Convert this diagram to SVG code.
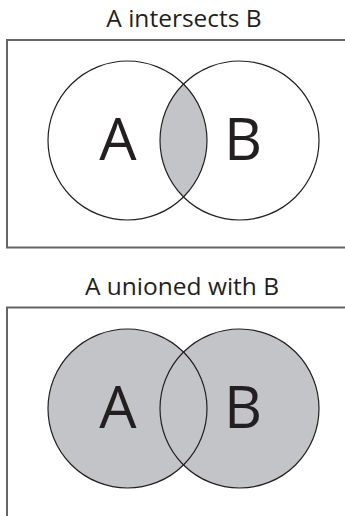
<svg xmlns="http://www.w3.org/2000/svg" width="345" height="516" viewBox="0 0 345 516">
<style>
.title{font-family:"Open Sans","Liberation Sans",sans-serif;font-size:24.5px;fill:#231f20;text-anchor:middle}
.big{font-family:"Open Sans","Liberation Sans",sans-serif;font-size:59px;fill:#231f20;text-anchor:middle}
.frame{fill:none;stroke:#646464;stroke-width:2}
.set{stroke:#231f20;stroke-width:1.2}
.empty{fill:none}
.shade{fill:#c3c4c7}
</style>
<rect width="345" height="516" fill="#fff"/>
<g id="panel-intersect">
  <text class="title" x="184" y="27">A intersects B</text>
  <rect class="frame" x="7" y="40" width="400" height="207.5"/>
  <path id="lens" class="shade" d="M183.5,84.1 A79.5,79.5 0 0,1 183.5,196.9 A79.5,79.5 0 0,1 183.5,84.1 Z"/>
  <g id="setA1"><circle class="set empty" cx="127.5" cy="140.5" r="79.5"/><text class="big" x="118" y="160">A</text></g>
  <g id="setB1"><circle class="set empty" cx="239.5" cy="140.5" r="79.5"/><text class="big" x="243" y="160">B</text></g>
</g>
<g id="panel-union">
  <text class="title" x="182" y="295">A unioned with B</text>
  <rect class="frame" x="7" y="307.5" width="400" height="300"/>
  <circle class="shade" cx="127.5" cy="408.5" r="79.5"/>
  <circle class="shade" cx="239.5" cy="408.5" r="79.5"/>
  <g id="setA2"><circle class="set empty" cx="127.5" cy="408.5" r="79.5"/><text class="big" x="118" y="428">A</text></g>
  <g id="setB2"><circle class="set empty" cx="239.5" cy="408.5" r="79.5"/><text class="big" x="243" y="428">B</text></g>
</g>
</svg>
